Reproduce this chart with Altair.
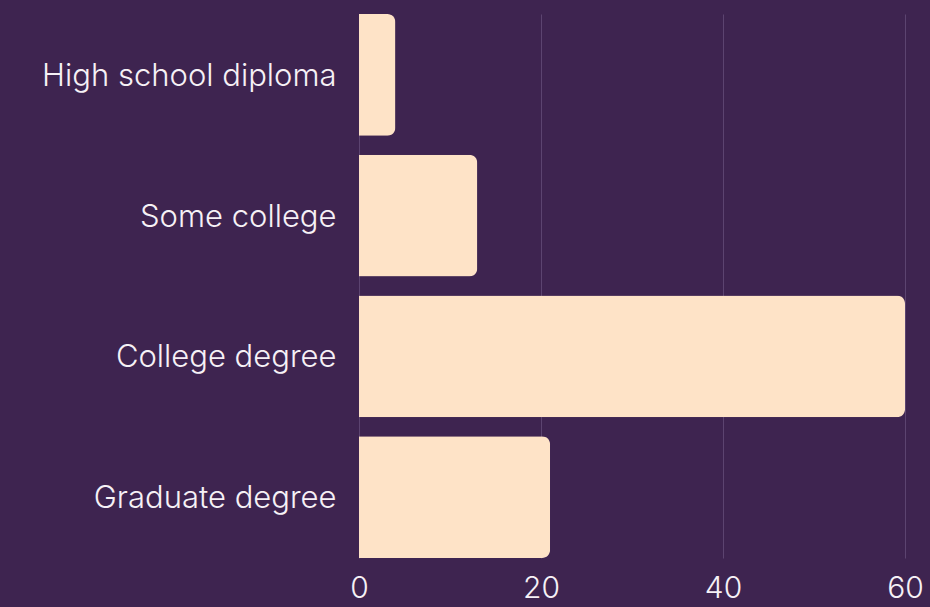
import altair as alt
import pandas as pd

categories = ["High school diploma", "Some college", "College degree", "Graduate degree"]
values = [4, 13, 60, 21]
x_ticks = [0, 20, 40, 60]

BG = "#3e2450"
BAR = "#fee3c7"
TEXT = "#f6f1f6"
GRID = "#5c4470"

df = pd.DataFrame({"category": categories, "value": values})

chart = (
    alt.Chart(df)
    .mark_bar(color=BAR, cornerRadiusEnd=8)
    .encode(
        x=alt.X(
            "value:Q",
            scale=alt.Scale(domain=[x_ticks[0], x_ticks[-1]], nice=False),
            axis=alt.Axis(
                values=x_ticks,
                title=None,
                grid=True,
                gridColor=GRID,
                gridWidth=1,
                domain=False,
                ticks=False,
                labelFontSize=30,
                labelColor=TEXT,
                labelFont="Inter",
                labelFontWeight=300,
                labelPadding=15,
                labelFlush=False,
            ),
        ),
        y=alt.Y(
            "category:N",
            sort=categories,
            scale=alt.Scale(paddingInner=0.135, paddingOuter=0),
            axis=alt.Axis(
                title=None,
                domain=False,
                ticks=False,
                grid=False,
                labelFontSize=31,
                labelColor=TEXT,
                labelFont="Inter",
                labelFontWeight=300,
                labelPadding=23,
                labelLimit=400,
                labelBaseline="middle",
                labelOffset=2,
            ),
        ),
    )
    .properties(
        width=546,
        height=544,
        background=BG,
        autosize=alt.AutoSizeParams(type="none"),
        padding={"left": 359, "top": 14, "right": 25, "bottom": 49},
    )
    .configure_view(stroke=None)
)

chart.save(
    "out.html",
    embed_options={
        "renderer": "svg",
        "actions": False,
        "defaultStyle": "body{margin:0;overflow:hidden;background:#3e2450}",
    },
)
